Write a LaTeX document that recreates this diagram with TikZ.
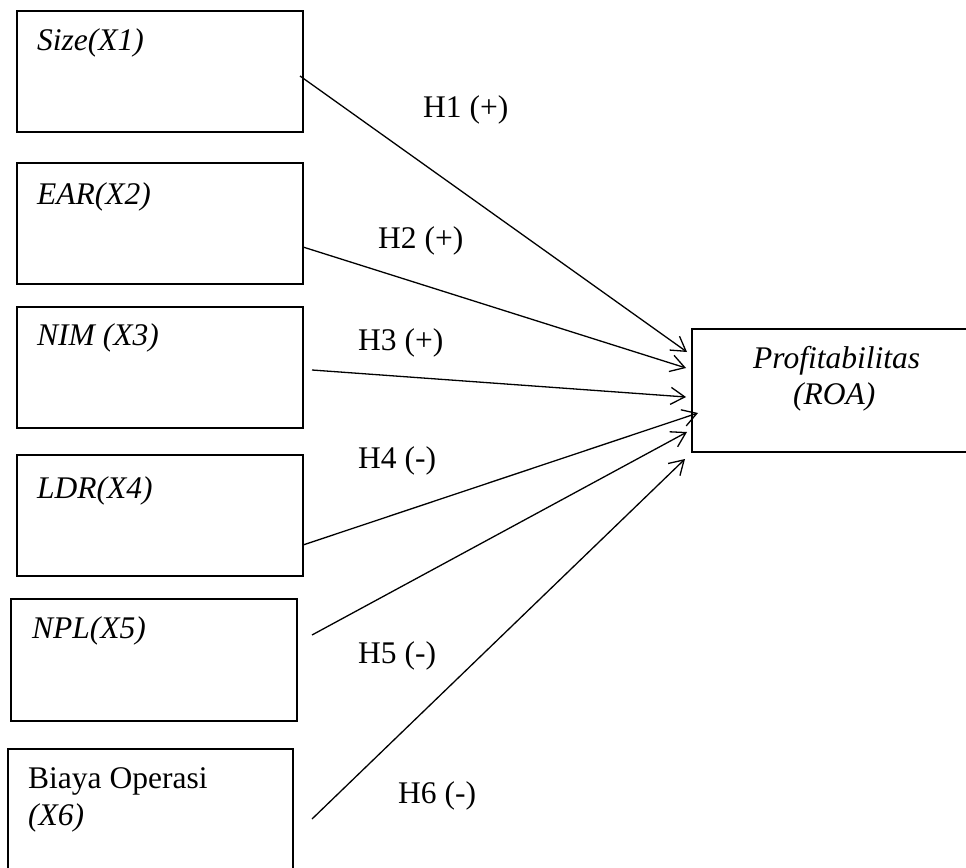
\documentclass[tikz,border=0pt]{standalone}
\usepackage{fontspec}
\setmainfont{Liberation Serif}[Ligatures=NoCommon]
\usetikzlibrary{arrows.meta}
\tikzset{
  box/.style={draw, line width=2pt, inner sep=0pt, outer sep=0pt, anchor=north west},
  lbl/.style={inner sep=0pt, anchor=base west, font=\fontsize{31.5}{36}\selectfont},
  arr/.style={line width=1.3pt, -{Straight Barb[length=14pt,width=17pt,line width=1.3pt]}}
}
\begin{document}
\begin{tikzpicture}[x=1pt,y=-1pt]
\useasboundingbox (0,0) rectangle (966,867);
% boxes
\node[box, minimum width=286pt, minimum height=121pt] (b1) at (17,11) {};
\node[box, minimum width=286pt, minimum height=121pt] (b2) at (17,163) {};
\node[box, minimum width=286pt, minimum height=121pt] (b3) at (17,307) {};
\node[box, minimum width=286pt, minimum height=121pt] (b4) at (17,455) {};
\node[box, minimum width=286pt, minimum height=122pt] (b5) at (11,599) {};
\node[box, minimum width=285pt, minimum height=140pt] (b6) at (8,749) {};
\node[box, minimum width=300pt, minimum height=123pt] (p) at (692,329) {};
% box texts
\node[lbl] (t1) at (37,51) {\textit{Size(X1)}};
\node[lbl] (t2) at (37,204) {\textit{EAR(X2)}};
\node[lbl] (t3) at (37,345) {\textit{NIM (X3)}};
\node[lbl] (t4) at (37,498) {\textit{LDR(X4)}};
\node[lbl] (t5) at (32,638) {\textit{NPL(X5)}};
\node[lbl] (t6a) at (28,788) {Biaya Operasi};
\node[lbl] (t6b) at (28,825) {\textit{(X6)}};
\node[lbl] (tp1) at (753,368) {\textit{Profitabilitas}};
\node[lbl] (tp2) at (793,404) {\textit{(ROA)}};
% connector ends
\coordinate (s1) at (300,76);  \coordinate (e1) at (687,352);
\coordinate (s2) at (303,247); \coordinate (e2) at (686,368);
\coordinate (s3) at (312,370); \coordinate (e3) at (686,397);
\coordinate (s4) at (303,545); \coordinate (e4) at (698,413);
\coordinate (s5) at (312,635); \coordinate (e5) at (687,432);
\coordinate (s6) at (312,819); \coordinate (e6) at (685,459);
\draw[arr] (s1) -- (e1);
\draw[arr] (s2) -- (e2);
\draw[arr] (s3) -- (e3);
\draw[arr] (s4) -- (e4);
\draw[arr] (s5) -- (e5);
\draw[arr] (s6) -- (e6);
% hypothesis labels
\node[lbl] (h1) at (423,117) {H1 (+)};
\node[lbl] (h2) at (378,248) {H2 (+)};
\node[lbl] (h3) at (358,350) {H3 (+)};
\node[lbl] (h4) at (358,468) {H4 (-)};
\node[lbl] (h5) at (358,663) {H5 (-)};
\node[lbl] (h6) at (398,803) {H6 (-)};
\end{tikzpicture}
\end{document}
